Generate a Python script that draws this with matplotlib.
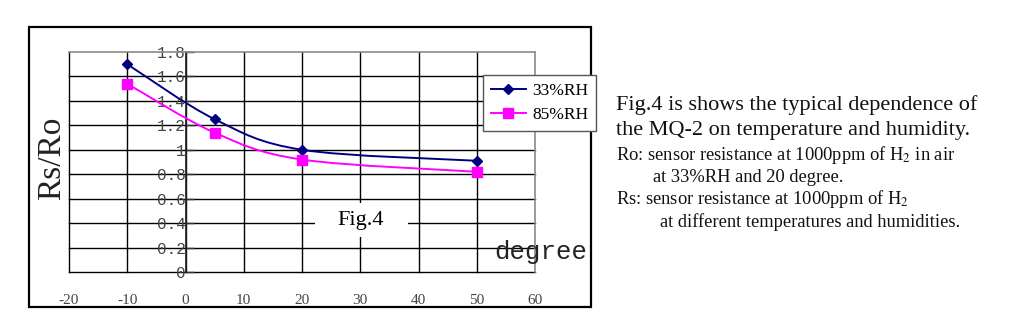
"""MQ-2 temperature / humidity dependence (Fig.4 of the datasheet)."""

import matplotlib
matplotlib.use("Agg")
import matplotlib.pyplot as plt
from matplotlib.path import Path
from matplotlib.patches import PathPatch, Rectangle

# data
temps = [-10, 5, 20, 50]
rh33 = [1.70, 1.25, 1.00, 0.91]
rh85 = [1.54, 1.14, 0.92, 0.82]
series_labels = ["33%RH", "85%RH"]

x_ticks = [-20, -10, 0, 10, 20, 30, 40, 50, 60]
y_ticks = [0, 0.2, 0.4, 0.6, 0.8, 1.0, 1.2, 1.4, 1.6, 1.8]
y_tick_labels = ["0", "0.2", "0.4", "0.6", "0.8", "1", "1.2", "1.4", "1.6", "1.8"]

notes = [
    ("Fig.4 is shows the typical dependence of", 16, 616, 105),
    ("the MQ-2 on temperature and humidity.", 16, 616, 130),
    ("Ro: sensor resistance at 1000ppm of H$_2$ in air", 13.3, 616, 155),
    ("at 33%RH and 20 degree.", 13.3, 653, 177),
    ("Rs: sensor resistance at 1000ppm of H$_2$", 13.3, 616, 199),
    ("at different temperatures and humidities.", 13.3, 660, 222),
]

W, H = 1024, 312
SERIF = "Liberation Serif"
MONO = "Liberation Mono"

plt.rcParams.update({
    "font.family": SERIF,
    "mathtext.fontset": "stix",
})


def smooth_path(xs, ys):
    """Bezier path through the points (Excel-style smoothed line)."""
    verts = [(xs[0], ys[0])]
    codes = [Path.MOVETO]
    n = len(xs)
    for i in range(n - 1):
        x0, y0 = (xs[i - 1], ys[i - 1]) if i > 0 else (xs[i], ys[i])
        x1, y1 = xs[i], ys[i]
        x2, y2 = xs[i + 1], ys[i + 1]
        x3, y3 = (xs[i + 2], ys[i + 2]) if i + 2 < n else (x2, y2)
        c1 = (x1 + (x2 - x0) / 6, y1 + (y2 - y0) / 6)
        c2 = (x2 - (x3 - x1) / 6, y2 - (y3 - y1) / 6)
        verts += [c1, c2, (x2, y2)]
        codes += [Path.CURVE4] * 3
    return Path(verts, codes)


fig = plt.figure(figsize=(W / 100, H / 100), dpi=100)

# outer frame round the chart
fig.patches.append(Rectangle((29 / W, 1 - 307 / H), 562 / W, 280 / H,
                             transform=fig.transFigure, fill=False,
                             edgecolor="black", linewidth=1.6))

ax = fig.add_axes([69 / W, 1 - 272 / H, 466 / W, 220 / H])
ax.set_xlim(-20, 60)
ax.set_ylim(0, 1.8)

# grid
for xv in x_ticks[:-1]:
    ax.axvline(xv, color="black", linewidth=1.0, zorder=1, clip_on=False)
for yv in y_ticks[:-1]:
    ax.axhline(yv, color="black", linewidth=1.0, zorder=1, clip_on=False)

for side in ["top", "right"]:
    ax.spines[side].set_color("#8a8a8a")
    ax.spines[side].set_linewidth(1.2)
ax.spines["bottom"].set_visible(False)
ax.spines["left"].set_position(("data", 0))
ax.spines["left"].set_linewidth(1.2)
ax.spines["left"].set_color("#222222")

ax.set_yticks(y_ticks)
ax.set_yticklabels(y_tick_labels, family=MONO, fontsize=11.5, color="#444444")
ax.tick_params(axis="y", direction="in", length=6, width=1.0, color="#333333",
               pad=0)
for lab in ax.get_yticklabels():
    lab.set_zorder(5)

ax.set_xticks(x_ticks)
ax.set_xticklabels([f"{v}" for v in x_ticks], family=SERIF, fontsize=11,
                   color="#444444")
ax.tick_params(axis="x", length=0, pad=16)

# series
styles = [("#000080", "D", 5.5), ("#FF00FF", "s", 7)]
for ys, lab, (col, mk, ms) in zip([rh33, rh85], series_labels, styles):
    ax.add_patch(PathPatch(smooth_path(temps, ys), facecolor="none",
                           edgecolor=col, linewidth=1.4, zorder=3))
    ax.plot(temps, ys, linestyle="none", marker=mk, markersize=ms, color=col,
            zorder=4)
    ax.plot([], [], color=col, marker=mk, markersize=ms, linewidth=1.4,
            label=lab)

# white box behind the "Fig.4" caption, cutting the grid
ax.add_patch(Rectangle((0.528, 0.159), 0.199, 0.155, transform=ax.transAxes,
                       facecolor="white", edgecolor="none", zorder=2))
ax.text(30.1, 0.425, "Fig.4", ha="center", va="center", fontsize=16,
        family=SERIF, zorder=6)

leg = fig.legend(loc="upper left", bbox_to_anchor=(483 / W, 1 - 75 / H),
                 fontsize=12.5, frameon=True, fancybox=False,
                 edgecolor="#555555", framealpha=1, handlelength=2.0,
                 borderpad=0.45, labelspacing=0.45, handletextpad=0.4,
                 borderaxespad=0)
leg.get_frame().set_linewidth(1.0)

fig.text(494 / W, 1 - 252 / H, "degree", family=MONO, fontsize=18.5,
         ha="left", va="center", color="#222222")
fig.text(52 / W, 1 - 158 / H, "Rs/Ro", family=SERIF, fontsize=24,
         rotation=90, ha="center", va="center", color="#222222")

for txt, fs, px, py in notes:
    fig.text(px / W, 1 - py / H, txt, fontsize=fs, ha="left", va="center",
             color="#111111")

fig.savefig("out.png", dpi=100)
